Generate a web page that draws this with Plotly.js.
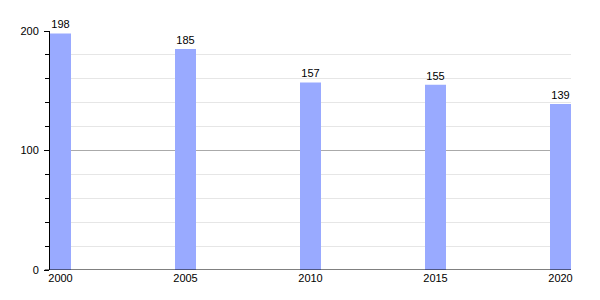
<!DOCTYPE html>
<html><head><meta charset="utf-8">
<script src="https://cdn.plot.ly/plotly-3.0.1.min.js"></script>
<style>html,body{margin:0;padding:0;background:#fff}</style>
</head><body>
<div id="chart" style="width:600px;height:300px"></div>
<script>
const years = [2000, 2005, 2010, 2015, 2020];
const values = [198, 185, 157, 155, 139];
const labels = values.map(String);

Plotly.newPlot('chart', [{
  type: 'bar',
  x: years,
  y: values,
  width: 0.84,
  text: labels,
  textposition: 'outside',
  cliponaxis: false,
  textfont: {family: 'Liberation Sans, Arial, sans-serif', size: 11, color: '#000'},
  marker: {color: '#99aaff'},
  hoverinfo: 'none'
}], {
  width: 600, height: 300,
  margin: {l: 50, r: 29, t: 31, b: 30},
  paper_bgcolor: '#fff', plot_bgcolor: '#fff',
  showlegend: false,
  font: {family: 'Liberation Sans, Arial, sans-serif', size: 11, color: '#000'},
  xaxis: {
    range: [1999.58, 2020.42],
    tickvals: years,
    ticktext: years.map(String),
    ticks: '',
    showgrid: false,
    zeroline: false,
    showline: false,
    tickfont: {size: 11}
  },
  yaxis: {
    range: [0, 200],
    dtick: 100,
    tick0: 0,
    ticks: 'outside',
    ticklen: 5,
    tickcolor: '#000',
    ticklabelstandoff: 3,
    showgrid: true,
    gridcolor: '#aaaaaa',
    gridwidth: 1,
    zeroline: false,
    showline: true,
    linecolor: '#000',
    linewidth: 1,
    tickfont: {size: 11},
    minor: {dtick: 20, tick0: 0, ticks: 'outside', ticklen: 4, tickcolor: '#000', showgrid: true, gridcolor: '#e6e6e6', gridwidth: 1}
  },
  shapes: [{
    type: 'line', xref: 'paper', yref: 'y', x0: -0.01, x1: 1, y0: 0, y1: 0,
    line: {color: '#000', width: 1}
  }]
}, {staticPlot: true});
</script>
</body></html>
